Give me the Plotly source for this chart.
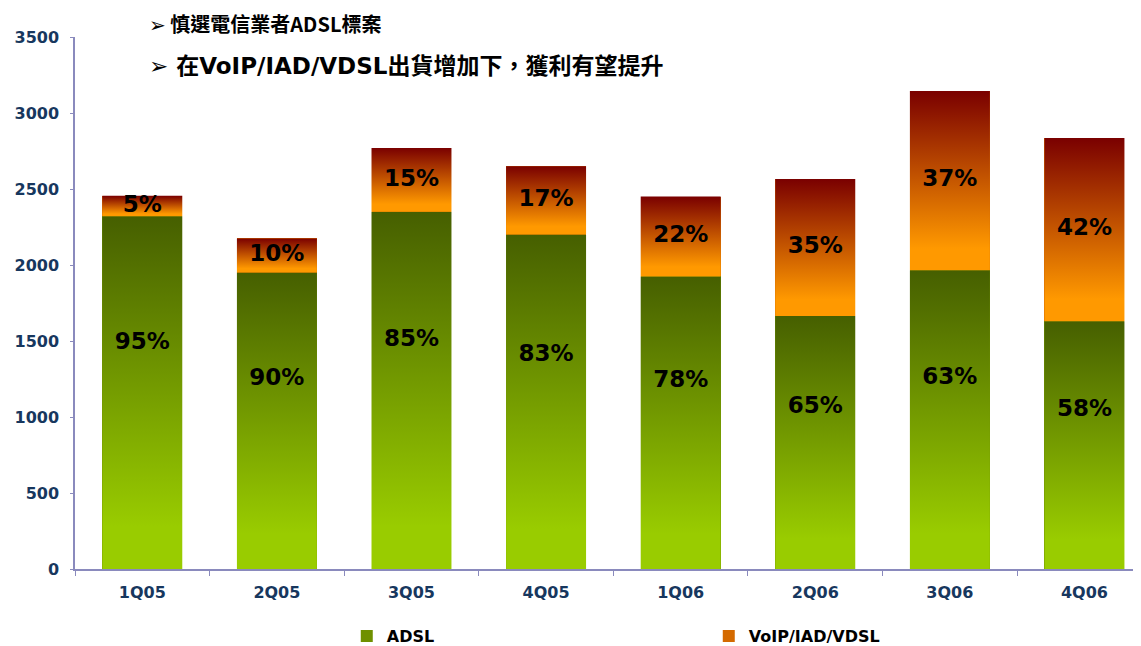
import plotly.graph_objects as go

# ---- data ----
categories = ["1Q05", "2Q05", "3Q05", "4Q05", "1Q06", "2Q06", "3Q06", "4Q06"]
adsl = [2320, 1950, 2350, 2200, 1925, 1665, 1965, 1630]
voip = [135, 225, 420, 450, 525, 900, 1180, 1205]
adsl_pct = ["95%", "90%", "85%", "83%", "78%", "65%", "63%", "58%"]
voip_pct = ["5%", "10%", "15%", "17%", "22%", "35%", "37%", "42%"]
series_names = ["ADSL", "VoIP/IAD/VDSL"]
y_ticks = [0, 500, 1000, 1500, 2000, 2500, 3000, 3500]
title_lines = ["➢ 慎選電信業者ADSL標案", "➢ 在VoIP/IAD/VDSL出貨增加下，獲利有望提升"]

# ---- style ----
BAR_W = 0.594
X_RANGE = [-0.5, 7.42]
AXIS_COLOR = "#8a8abd"
TICK_COLOR = "#17375e"
GREEN_SCALE = [[0, "#99cc00"], [0.12, "#99cc00"], [1, "#465f00"]]
ORANGE_SCALE = [[0, "#ff9900"], [0.12, "#ff9900"], [1, "#7a0000"]]
LABEL_FONT = dict(family="DejaVu Sans", size=23, color="black", weight="bold")

fig = go.Figure()

# real stacked bars (category axis) – also provide the legend
fig.add_trace(go.Bar(x=categories, y=adsl, name=series_names[0], width=BAR_W,
                     marker=dict(color="#6f9000", line=dict(width=0))))
fig.add_trace(go.Bar(x=categories, y=voip, base=adsl, name=series_names[1], width=BAR_W,
                     marker=dict(color="#d46a00", line=dict(width=0))))

# gradient overlays on a numeric twin axis, one per bar segment
for i, (a, v) in enumerate(zip(adsl, voip)):
    x0, x1 = i - BAR_W / 2, i + BAR_W / 2
    for base, h, scale in ((0, a, GREEN_SCALE), (a, v, ORANGE_SCALE)):
        fig.add_trace(go.Scatter(
            x=[x0, x1, x1, x0, x0], y=[base, base, base + h, base + h, base],
            xaxis="x2", mode="lines", fill="toself", line=dict(width=0),
            fillgradient=dict(type="vertical", colorscale=scale),
            showlegend=False, hoverinfo="skip"))

idx = list(range(len(categories)))
fig.add_trace(go.Scatter(x=idx, y=[a * 0.64 for a in adsl], text=adsl_pct, mode="text",
                         xaxis="x2", textfont=LABEL_FONT, showlegend=False, hoverinfo="skip"))
fig.add_trace(go.Scatter(x=idx, y=[a + v / 2 for a, v in zip(adsl, voip)], text=voip_pct,
                         mode="text", xaxis="x2", textfont=LABEL_FONT, showlegend=False,
                         hoverinfo="skip"))

fig.update_layout(
    width=1133, height=638,
    margin=dict(l=67, r=0, t=29, b=77, autoexpand=False),
    paper_bgcolor="white", plot_bgcolor="white",
    barmode="stack",
    showlegend=True,
    legend=dict(orientation="h", traceorder="normal",
                xref="container", yref="container",
                x=0.299, y=0.0157, xanchor="left", yanchor="middle",
                entrywidth=317, entrywidthmode="pixels", itemwidth=30,
                font=dict(family="DejaVu Sans", size=16, color="black", weight="bold")),
    xaxis=dict(type="category", categoryorder="array", categoryarray=categories,
               range=X_RANGE, tickson="boundaries", ticks="outside", ticklen=5,
               tickcolor=AXIS_COLOR, showline=True, linecolor=AXIS_COLOR, linewidth=1.5,
               showgrid=False, ticklabelstandoff=8, automargin=False,
               tickfont=dict(family="DejaVu Sans", size=16, color=TICK_COLOR, weight="bold")),
    xaxis2=dict(overlaying="x", range=X_RANGE, visible=False, showgrid=False),
    yaxis=dict(range=[0, 3500], tickvals=y_ticks, ticks="outside", ticklen=3,
               tickcolor=AXIS_COLOR, showline=True, linecolor=AXIS_COLOR, linewidth=1.5,
               showgrid=False, zeroline=False, ticklabelstandoff=8, automargin=False,
               tickfont=dict(family="DejaVu Sans", size=16, color=TICK_COLOR, weight="bold")),
    annotations=[
        dict(text=title_lines[0], xref="paper", yref="paper", x=0.068, y=1.0263,
             xanchor="left", yanchor="middle", showarrow=False,
             font=dict(family="Noto Sans CJK TC, DejaVu Sans", size=20, color="black",
                       weight="bold")),
        dict(text=title_lines[1], xref="paper", yref="paper", x=0.068, y=0.9455,
             xanchor="left", yanchor="middle", showarrow=False,
             font=dict(family="DejaVu Sans, Noto Sans CJK TC", size=23, color="black",
                       weight="bold")),
    ],
)

fig.write_html("out.html")
